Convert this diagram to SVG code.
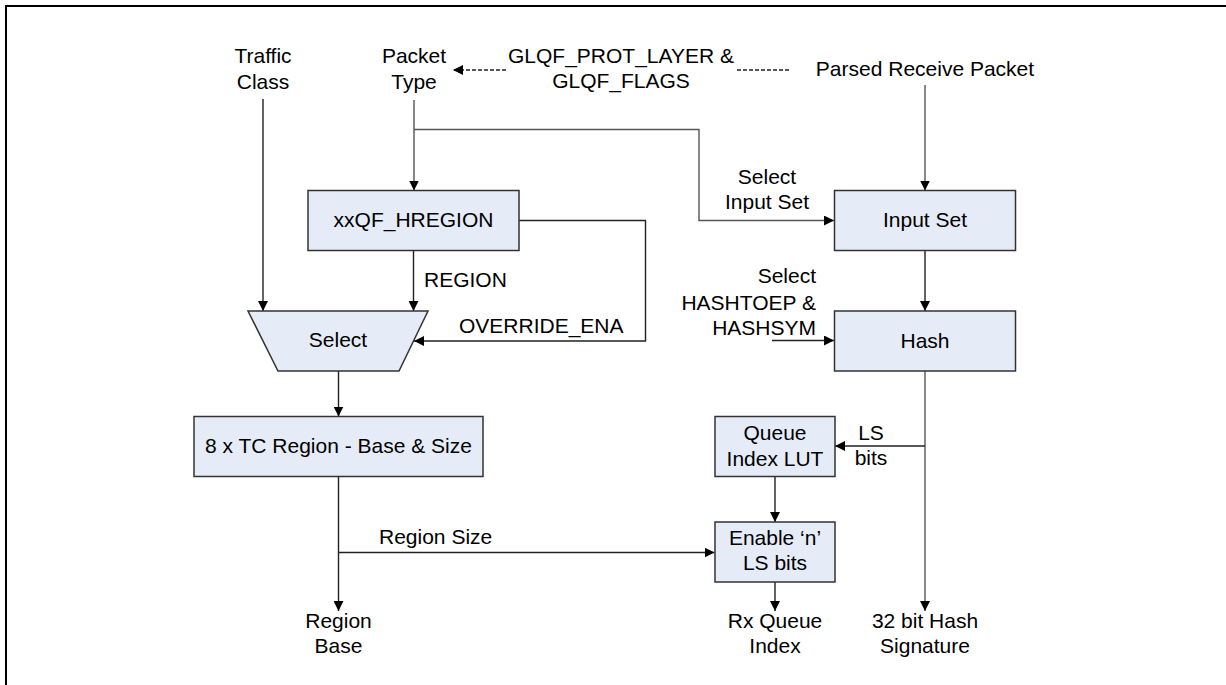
<svg xmlns="http://www.w3.org/2000/svg" width="1226" height="685" viewBox="0 0 1226 685">
<style>
text{font-family:"Liberation Sans",Arial,sans-serif;font-size:21px;fill:#000}
.m{text-anchor:middle}
.e{text-anchor:end}
.box{fill:#E6ECF7;stroke:#333;stroke-width:1.5}
.ln{fill:none;stroke:#222;stroke-width:1.4}
.g{stroke:#555}
.d{stroke-dasharray:4 2}
</style>
<defs>
<marker id="ah" viewBox="0 0 10 10" refX="10" refY="5" markerWidth="10" markerHeight="10" markerUnits="userSpaceOnUse" orient="auto">
<path d="M0,0 L10,5 L0,10 z" fill="#000"/>
</marker>
</defs>
<rect width="1226" height="685" fill="#fff"/>
<path d="M6,685 V6 H1226" fill="none" stroke="#000" stroke-width="2"/>

<g id="connectors">
<path class="ln d" d="M506,70 H453" marker-end="url(#ah)"/>
<path class="ln d" d="M737,70 H790"/>
<path class="ln" d="M263,99 V311" marker-end="url(#ah)"/>
<path class="ln g" d="M414,100 V190.5" marker-end="url(#ah)"/>
<path class="ln g" d="M414,129.5 H699 V220.5 H834" marker-end="url(#ah)"/>
<path class="ln g" d="M925,85 V190.5" marker-end="url(#ah)"/>
<path class="ln" d="M413.5,250.5 V311" marker-end="url(#ah)"/>
<path class="ln" d="M519,220.5 H645.5 V341 H414" marker-end="url(#ah)"/>
<path class="ln" d="M925,250.5 V311" marker-end="url(#ah)"/>
<path class="ln" d="M772,340.5 H834" marker-end="url(#ah)"/>
<path class="ln" d="M338.5,371 V416.5" marker-end="url(#ah)"/>
<path class="ln" d="M338.5,476.5 V611" marker-end="url(#ah)"/>
<path class="ln" d="M338.5,552.5 H714.5" marker-end="url(#ah)"/>
<path class="ln g" d="M925,371 V611" marker-end="url(#ah)"/>
<path class="ln" d="M925,446 H835" marker-end="url(#ah)"/>
<path class="ln" d="M775,476.5 V522" marker-end="url(#ah)"/>
<path class="ln" d="M775,582 V611" marker-end="url(#ah)"/>
</g>

<g id="labels">
<text class="m" x="263" y="63">Traffic</text>
<text class="m" x="263" y="89">Class</text>
<text class="m" x="414" y="63">Packet</text>
<text class="m" x="414" y="89">Type</text>
<text class="m" x="621" y="63">GLQF_PROT_LAYER &amp;</text>
<text class="m" x="621" y="88">GLQF_FLAGS</text>
<text class="m" x="925" y="76">Parsed Receive Packet</text>
<text class="m" x="767" y="184">Select</text>
<text class="m" x="767" y="209">Input Set</text>
<text x="424" y="287">REGION</text>
<text x="459" y="333">OVERRIDE_ENA</text>
<text class="e" x="816" y="283">Select</text>
<text class="e" x="816" y="310">HASHTOEP &amp;</text>
<text class="e" x="816" y="335">HASHSYM</text>
<text class="m" x="871" y="440">LS</text>
<text class="m" x="871" y="465">bits</text>
<text x="379" y="544">Region Size</text>
<text class="m" x="338.5" y="628">Region</text>
<text class="m" x="338.5" y="653">Base</text>
<text class="m" x="775" y="628">Rx Queue</text>
<text class="m" x="775" y="653">Index</text>
<text class="m" x="925" y="628">32 bit Hash</text>
<text class="m" x="925" y="653">Signature</text>
</g>

<g id="hregion">
<rect class="box" x="308" y="190.5" width="211" height="60"/>
<text class="m" x="413.5" y="227">xxQF_HREGION</text>
</g>
<g id="select">
<path class="box" d="M248,311 H428 L399,371 H278 Z"/>
<text class="m" x="338" y="347">Select</text>
</g>
<g id="tc-region">
<rect class="box" x="194" y="416.5" width="289" height="60"/>
<text class="m" x="338.5" y="453">8 x TC Region - Base &amp; Size</text>
</g>
<g id="input-set">
<rect class="box" x="834.5" y="190.5" width="181" height="60"/>
<text class="m" x="925" y="227">Input Set</text>
</g>
<g id="hash">
<rect class="box" x="834.5" y="311" width="181" height="60"/>
<text class="m" x="925" y="348">Hash</text>
</g>
<g id="lut">
<rect class="box" x="715" y="416.5" width="120" height="60"/>
<text class="m" x="775" y="440">Queue</text>
<text class="m" x="775" y="466">Index LUT</text>
</g>
<g id="enable">
<rect class="box" x="715" y="522" width="120" height="60"/>
<text class="m" x="775" y="545">Enable ‘n’</text>
<text class="m" x="775" y="570">LS bits</text>
</g>
</svg>
